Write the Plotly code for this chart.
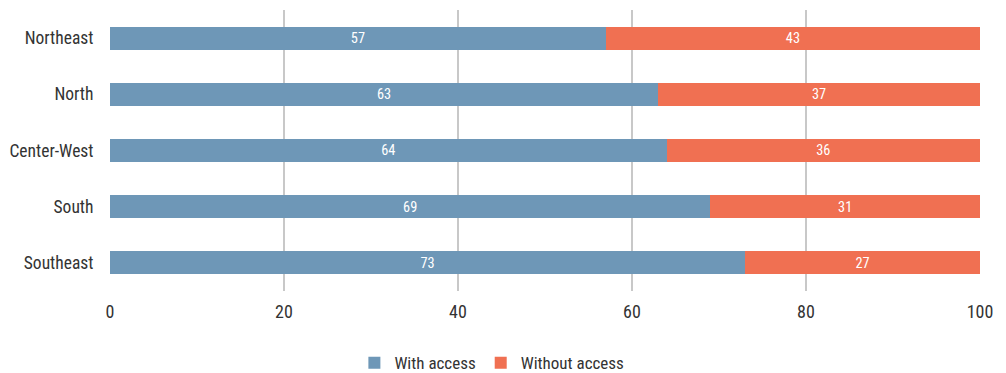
import plotly.graph_objects as go

regions = ["Northeast", "North", "Center-West", "South", "Southeast"]
with_access = [57, 63, 64, 69, 73]
without_access = [43, 37, 36, 31, 27]
x_ticks = [0, 20, 40, 60, 80, 100]

FONT = "Roboto Condensed, Roboto, Arial, sans-serif"
BLUE = "#6E97B7"
ORANGE = "#F07052"
TEXT = "#333333"

fig = go.Figure()
for name, vals, color in [("With access", with_access, BLUE),
                          ("Without access", without_access, ORANGE)]:
    fig.add_trace(go.Bar(
        y=regions, x=vals, orientation="h", name=name,
        marker=dict(color=color, line=dict(width=0)),
        text=vals, textposition="inside", insidetextanchor="middle",
        textangle=0,
        textfont=dict(color="white", size=16, family=FONT),
        hoverinfo="x+y",
    ))

fig.update_layout(
    barmode="stack",
    bargap=0.59,
    width=1006, height=373,
    margin=dict(l=102, r=34, t=2, b=90, autoexpand=False),
    paper_bgcolor="white", plot_bgcolor="white",
    font=dict(family=FONT, size=18, color=TEXT),
    uniformtext=dict(minsize=10, mode="show"),
    xaxis=dict(
        range=[0, 100], tickvals=x_ticks, showgrid=True,
        gridcolor="#c8c8c8", gridwidth=1.5, zeroline=False,
        showline=False, ticks="outside", ticklen=4,
        tickcolor="rgba(0,0,0,0)", tickfont=dict(size=18, color=TEXT),
        automargin=False, fixedrange=True,
    ),
    yaxis=dict(
        categoryorder="array", categoryarray=regions, autorange="reversed",
        showgrid=False, zeroline=False, showline=False,
        ticks="outside", ticklen=12, tickcolor="rgba(0,0,0,0)",
        tickfont=dict(size=17.5, color=TEXT), automargin=False, fixedrange=True,
    ),
    legend=dict(
        orientation="h", xref="container", yref="container",
        x=0.481, xanchor="center", y=0.048, yanchor="middle",
        font=dict(size=17, color=TEXT), itemwidth=30,
        traceorder="normal",
    ),
)

fig.write_html("out.html")
